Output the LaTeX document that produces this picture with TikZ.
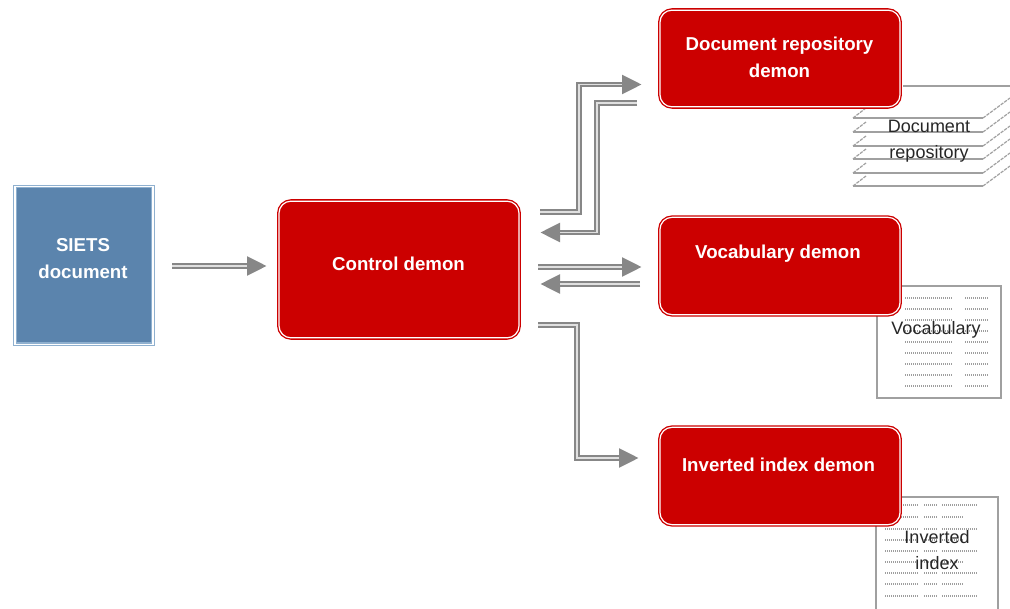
\documentclass[tikz,border=0pt]{standalone}
\usepackage{fontspec}
\setmainfont{Liberation Sans}
\usetikzlibrary{arrows.meta}
\definecolor{dred}{HTML}{CC0000}
\definecolor{dblue}{HTML}{5B84AD}
\definecolor{lblue}{HTML}{8FB0CF}
\definecolor{cgray}{HTML}{878787}
\definecolor{pgray}{HTML}{A0A0A0}
\tikzset{
  redbox/.style={draw=dred,double=white,double distance=0.9pt,line width=1pt,fill=dred,rounded corners=9pt,minimum width=180pt,inner sep=0pt,outer sep=0pt},
  bluebox/.style={draw=lblue,double=white,double distance=0.9pt,line width=.8pt,fill=dblue,minimum width=103.5pt,minimum height=118pt,inner sep=0pt,outer sep=0pt},
  boxtext/.style={text=white,font=\fontsize{14}{20.25}\selectfont\bfseries,align=center,inner sep=0pt},
  doctext/.style={text=black!85,font=\fontsize{13.5}{19.5}\selectfont,align=center,inner sep=0pt},
  conn/.style={draw=cgray,line width=3.8pt,-{Triangle[length=15pt,width=13.5pt]},
    postaction={draw=black!12,line width=.9pt,-{},shorten >=15pt}},
  sheet/.style={draw=pgray,line width=1.2pt,fill=white},
  plate/.style={draw=pgray,line width=1.1pt},
  slant/.style={draw=pgray,line width=.9pt,dash pattern=on 2.5pt off .8pt},
  dots/.style={draw=black!38,line width=2.2pt,dash pattern=on .75pt off .75pt},
}
\begin{document}
\begin{tikzpicture}[x=.75pt,y=-.75pt]
\useasboundingbox (0,0) rectangle (1010,609);
% document stack
\draw[plate] (903,86) -- (1010,86);
\foreach \y in {118,132,146,159,173,186}{
  \draw[plate] (853,\y) -- (983,\y);
  \draw[slant] (853,\y) -- (866,\y-10);
  \draw[slant] (983,\y) -- (1010,\y-20);
}
% vocabulary sheet
\node[sheet,minimum width=93pt,minimum height=84pt,inner sep=0pt] (vocsheet) at (939,342) {};
\foreach \y in {298,309,320,331,342,353,364,375,386}{
  \draw[dots] (905,\y) -- (952,\y);
  \draw[dots] (965,\y) -- (988,\y);
}
% inverted index sheet
\path[sheet] (876,612) -- (876,497) -- (998,497) -- (998,612);
\foreach \y/\e in {505/978,517/964,529/978,540/964,551/978,562/964,573/978,584/964,596/978}{
  \draw[dots] (885,\y) -- (918,\y);
  \draw[dots] (924,\y) -- (937,\y);
  \draw[dots] (942,\y) -- (\e,\y);
}
% boxes
\node[bluebox] (siets) at (84,265.5) {};
\node[redbox,minimum height=102.5pt] (control) at (399,269.5) {};
\node[redbox,minimum height=72.5pt] (repo) at (780,58.5) {};
\node[redbox,minimum height=73pt] (vocab) at (780,266) {};
\node[redbox,minimum height=73pt] (invidx) at (780,476) {};
% box texts
\node[boxtext] (sietst) at (83,258.5) {SIETS\\document};
\node[boxtext] (controlt) at (398.5,264) {Control demon};
\node[boxtext] (repot) at (779.5,57.5) {Document repository\\demon};
\node[boxtext] (vocabt) at (778,253.5) {Vocabulary demon};
\node[boxtext] (invidxt) at (778.5,464.5) {Inverted index demon};
% document labels
\node[doctext] (stackt) at (929,141) {Document\\repository};
\node[doctext] (voct) at (936,329.5) {Vocabulary};
\node[doctext] (invt) at (937,550) {Inverted\\index};
% connector ends
\coordinate (a1) at (172,266);  \coordinate (a2) at (267,266);
\coordinate (b1) at (540,212);  \coordinate (b2) at (579,84.5); \coordinate (b3) at (642,84.5);
\coordinate (c1) at (637,103);  \coordinate (c2) at (597,232.5); \coordinate (c3) at (540,232.5);
\coordinate (d1) at (538,267);  \coordinate (d2) at (642,267);
\coordinate (e1) at (640,284);  \coordinate (e2) at (540,284);
\coordinate (f1) at (538,325);  \coordinate (f2) at (577,458); \coordinate (f3) at (639,458);
% connectors
\draw[conn] (a1) -- (a2);
\draw[conn] (b1) -| (b2) -- (b3);
\draw[conn] (c1) -| (c2) -- (c3);
\draw[conn] (d1) -- (d2);
\draw[conn] (e1) -- (e2);
\draw[conn] (f1) -| (f2) -- (f3);
\end{tikzpicture}
\end{document}
